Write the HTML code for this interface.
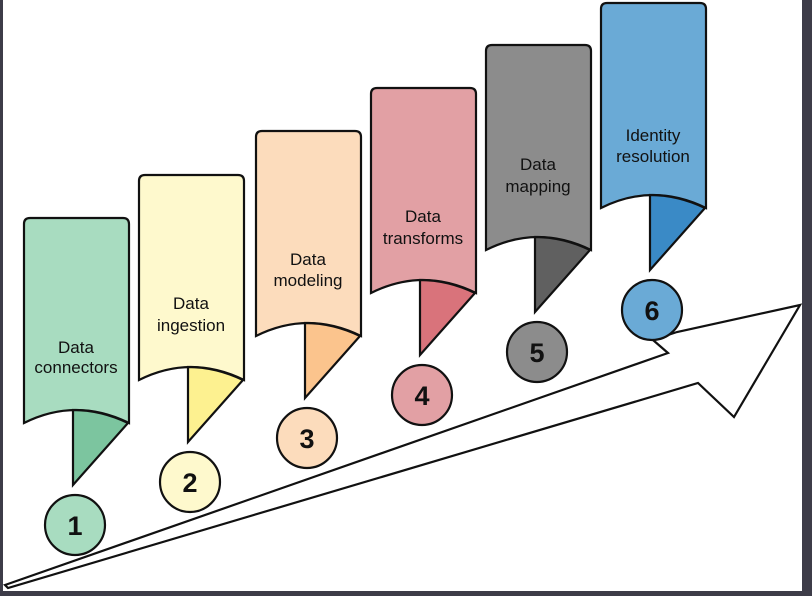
<!DOCTYPE html>
<html><head><meta charset="utf-8"><style>
html,body{margin:0;padding:0;background:#3d3c48;}
svg{display:block}
text{font-family:"Liberation Sans",sans-serif;}
</style></head><body>
<svg width="812" height="596" viewBox="0 0 812 596" xmlns="http://www.w3.org/2000/svg">
<rect x="0" y="0" width="812" height="596" fill="#3d3c48"/>
<rect x="3" y="0" width="799" height="591" fill="#ffffff"/>
<polygon points="5,585 668,353 653,340 677,332 800,305 734,417 698,383 8,588" fill="#fff" stroke="#111" stroke-width="2.2" stroke-linejoin="miter"/>
<defs>
<g id="b">
<path d="M24,224 Q24,218 30,218 L123,218 Q129,218 129,224 L129,423 Q76,397 24,423 Z" stroke="#111" stroke-width="2.2"/>
</g>
</defs>
<g stroke="#111" stroke-width="2.2" stroke-linejoin="miter">
<g transform="translate(0,0)">
<path d="M24,224 Q24,218 30,218 L123,218 Q129,218 129,224 L129,423 Q76,397 24,423 Z" fill="#a8dcc0"/>
<path d="M73,410 L73,485 L128,423 Q101,410 73,410 Z" fill="#7cc59f"/>
<circle cx="75" cy="525" r="30" fill="#a8dcc0"/>
</g>
<g transform="translate(115,-43)">
<path d="M24,224 Q24,218 30,218 L123,218 Q129,218 129,224 L129,423 Q76,397 24,423 Z" fill="#fef9cd"/>
<path d="M73,410 L73,485 L128,423 Q101,410 73,410 Z" fill="#fdf190"/>
<circle cx="75" cy="525" r="30" fill="#fef9cd"/>
</g>
<g transform="translate(232,-87)">
<path d="M24,224 Q24,218 30,218 L123,218 Q129,218 129,224 L129,423 Q76,397 24,423 Z" fill="#fcdcbc"/>
<path d="M73,410 L73,485 L128,423 Q101,410 73,410 Z" fill="#fbc48d"/>
<circle cx="75" cy="525" r="30" fill="#fcdcbc"/>
</g>
<g transform="translate(347,-130)">
<path d="M24,224 Q24,218 30,218 L123,218 Q129,218 129,224 L129,423 Q76,397 24,423 Z" fill="#e2a0a4"/>
<path d="M73,410 L73,485 L128,423 Q101,410 73,410 Z" fill="#d9737b"/>
<circle cx="75" cy="525" r="30" fill="#e2a0a4"/>
</g>
<g transform="translate(462,-173)">
<path d="M24,224 Q24,218 30,218 L123,218 Q129,218 129,224 L129,423 Q76,397 24,423 Z" fill="#8c8c8c"/>
<path d="M73,410 L73,485 L128,423 Q101,410 73,410 Z" fill="#606060"/>
<circle cx="75" cy="525" r="30" fill="#8c8c8c"/>
</g>
<g transform="translate(577,-215)">
<path d="M24,224 Q24,218 30,218 L123,218 Q129,218 129,224 L129,423 Q76,397 24,423 Z" fill="#6aaad6"/>
<path d="M73,410 L73,485 L128,423 Q101,410 73,410 Z" fill="#3a8ac6"/>
<circle cx="75" cy="525" r="30" fill="#6aaad6"/>
</g>
</g>
<g font-size="17" fill="#111" text-anchor="middle">
<text x="76" y="353">Data</text><text x="76" y="373">connectors</text>
<text x="191" y="309">Data</text><text x="191" y="331">ingestion</text>
<text x="308" y="265">Data</text><text x="308" y="286">modeling</text>
<text x="423" y="222">Data</text><text x="423" y="244">transforms</text>
<text x="538" y="170">Data</text><text x="538" y="192">mapping</text>
<text x="653" y="141">Identity</text><text x="653" y="162">resolution</text>
</g>
<g font-size="27" font-weight="bold" fill="#111" text-anchor="middle">
<text x="75" y="535">1</text>
<text x="190" y="492">2</text>
<text x="307" y="448">3</text>
<text x="422" y="405">4</text>
<text x="537" y="362">5</text>
<text x="652" y="320">6</text>
</g>
</svg>
</body></html>
